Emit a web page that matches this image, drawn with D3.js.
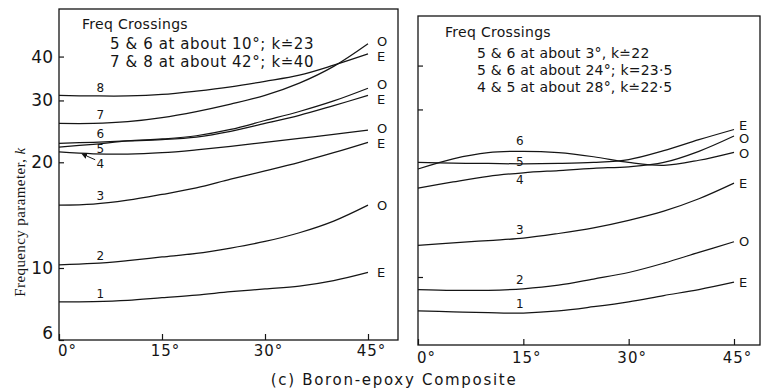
<!DOCTYPE html>
<html>
<head>
<meta charset="utf-8">
<script src="https://cdn.jsdelivr.net/npm/d3@7"></script>
<style>
  body { margin: 0; background: #fff; }
  svg { display: block; }
  text { fill: #151515; }
</style>
</head>
<body>
<div id="chart"></div>
<script>
// fibre angle (degrees) where each curve is read
const angles = [0, 5, 10, 15, 20, 25, 30, 35, 40, 45];

// left panel: frequency parameter k per mode
const leftMode1 = [7.86, 7.88, 7.95, 8.1, 8.25, 8.45, 8.62, 8.8, 9.15, 9.7];
const leftMode2 = [10.2, 10.3, 10.5, 10.75, 11.0, 11.4, 11.9, 12.6, 13.6, 15.1];
const leftMode3 = [15.1, 15.2, 15.6, 16.2, 16.9, 17.9, 18.9, 20.0, 21.3, 22.8];
const leftMode4 = [21.4, 21.15, 21.1, 21.3, 21.7, 22.2, 22.8, 23.4, 24.0, 24.7];
const leftMode5 = [22.1, 22.5, 23.0, 23.3, 23.8, 24.8, 26.3, 27.9, 29.9, 32.5];
const leftMode6 = [22.65, 22.8, 23.0, 23.2, 23.6, 24.5, 25.8, 27.2, 29.0, 31.0];
const leftMode7 = [25.8, 25.8, 26.1, 26.8, 27.9, 29.3, 31.0, 33.6, 37.5, 43.5];
const leftMode8 = [31.0, 30.9, 30.9, 31.2, 31.9, 32.8, 34.0, 35.4, 37.8, 40.7];
const leftEnds = ['E', 'O', 'E', 'O', 'O', 'E', 'O', 'E'];

// right panel
const rightMode1 = [7.75, 7.7, 7.65, 7.63, 7.75, 8.0, 8.3, 8.7, 9.1, 9.62];
const rightMode2 = [9.1, 9.05, 9.05, 9.15, 9.4, 9.85, 10.3, 10.95, 11.75, 12.6];
const rightMode3 = [12.3, 12.5, 12.7, 12.9, 13.3, 13.8, 14.5, 15.4, 16.7, 18.5];
const rightMode4 = [17.9, 18.65, 19.35, 19.8, 20.1, 20.4, 20.6, 21.2, 22.8, 25.2];
const rightMode5 = [21.2, 21.1, 21.05, 21.0, 21.05, 21.2, 21.6, 22.9, 24.6, 26.3];
const rightMode6 = [20.3, 21.7, 22.6, 22.8, 22.6, 22.0, 21.2, 20.8, 21.5, 22.65];
const rightEnds = ['E', 'O', 'E', 'O', 'E', 'O'];

const yTicks = [40, 30, 20, 10, 6];
const yTickLabels = ['40', '30', '20', '10', '6'];
const rightYTicks = [40, 30, 10];
const xTicks = [0, 15, 30, 45];
const xTickLabels = ['0°', '15°', '30°', '45°'];

const leftNotes = ['Freq Crossings', '5 & 6 at about 10°; k≐23', '7 & 8 at about 42°; k≐40'];
const rightNotes = ['Freq Crossings', '5 & 6 at about 3°, k≐22', '5 & 6 at about 24°; k=23·5', '4 & 5 at about 28°, k≐22·5'];
const caption = '(c)  Boron-epoxy Composite';
const yTitle = 'Frequency parameter, ';

const width = 762, height = 392;
const font = '"DejaVu Sans", sans-serif';

const svg = d3.select('#chart').append('svg')
    .attr('width', width)
    .attr('height', height);

svg.append('defs').append('marker')
    .attr('id', 'arrow')
    .attr('viewBox', '0 0 10 10')
    .attr('refX', 1).attr('refY', 5)
    .attr('markerWidth', 6).attr('markerHeight', 6)
    .attr('orient', 'auto-start-reverse')
    .append('path')
    .attr('d', 'M0,0L10,5L0,10z')
    .attr('fill', '#151515');

function toSeries(list, ends) {
    return list.map((vals, i) => ({
        mode: i + 1,
        end: ends[i],
        points: angles.map((a, j) => ({ a, k: vals[j] }))
    }));
}

const leftSeries = toSeries([leftMode1, leftMode2, leftMode3, leftMode4, leftMode5, leftMode6, leftMode7, leftMode8], leftEnds);
const rightSeries = toSeries([rightMode1, rightMode2, rightMode3, rightMode4, rightMode5, rightMode6], rightEnds);

function drawPanel(opt) {
    const { x, y, frame, series, labelAngle, labelDy, showYLabels, yTickVals } = opt;
    const g = svg.append('g');

    // frame
    g.append('rect')
        .attr('x', frame[0]).attr('y', frame[1])
        .attr('width', frame[2] - frame[0]).attr('height', frame[3] - frame[1])
        .attr('fill', 'none')
        .attr('stroke', '#151515')
        .attr('stroke-width', 1.3);

    // x axis
    const xAxis = d3.axisBottom(x)
        .tickValues(xTicks)
        .tickFormat((d, i) => xTickLabels[i])
        .tickSizeInner(-6).tickSizeOuter(0)
        .tickPadding(opt.xPad);
    const gx = g.append('g')
        .attr('transform', `translate(0,${frame[3]})`)
        .call(xAxis);
    gx.select('.domain').remove();
    gx.selectAll('line').attr('stroke', '#151515').attr('stroke-width', 1.2);
    gx.selectAll('text')
        .attr('font-family', font)
        .attr('font-size', 15)
        .attr('letter-spacing', 1)
        .attr('fill', '#151515')
        .attr('dx', d => d === 0 ? 8 : 3);

    // y axis
    const yAxis = d3.axisLeft(y)
        .tickValues(yTickVals)
        .tickFormat((d) => showYLabels ? yTickLabels[yTicks.indexOf(d)] : '')
        .tickSizeInner(-5).tickSizeOuter(0)
        .tickPadding(6);
    const gy = g.append('g')
        .attr('transform', `translate(${frame[0]},0)`)
        .call(yAxis);
    gy.select('.domain').remove();
    gy.selectAll('line').attr('stroke', '#151515').attr('stroke-width', 1.2);
    gy.selectAll('text')
        .attr('font-family', font)
        .attr('font-size', 17)
        .attr('fill', '#151515')
        .attr('dy', d => d === 6 ? '-0.1em' : '0.32em');

    const line = d3.line()
        .x(d => x(d.a))
        .y(d => y(d.k))
        .curve(d3.curveCatmullRom.alpha(0.5));

    g.selectAll('path.curve')
        .data(series)
        .join('path')
        .attr('class', 'curve')
        .attr('d', d => line(d.points))
        .attr('fill', 'none')
        .attr('stroke', '#151515')
        .attr('stroke-width', 1.25);

    // mode numbers near the start of each curve
    const lookup = (s, a) => {
        const i = d3.bisectLeft(angles, a);
        const p0 = s.points[Math.max(i - 1, 0)], p1 = s.points[i];
        const t = (a - p0.a) / ((p1.a - p0.a) || 1);
        return Math.exp(Math.log(p0.k) * (1 - t) + Math.log(p1.k) * t);
    };
    g.selectAll('text.mode')
        .data(series)
        .join('text')
        .attr('class', 'mode')
        .attr('x', x(labelAngle))
        .attr('y', d => y(lookup(d, labelAngle)) + (labelDy[d.mode] ?? -4))
        .attr('text-anchor', 'middle')
        .attr('font-family', font)
        .attr('font-size', 12)
        .text(d => d.mode);

    // O / E tags at the curve ends, nudged apart when crowded
    const ends = series.map(s => ({ s, y: y(s.points[s.points.length - 1].k) }))
        .sort((a, b) => a.y - b.y);
    for (let i = 1; i < ends.length; i++) {
        const gap = ends[i].y - ends[i - 1].y;
        if (gap < 15) {
            const push = (15 - gap) / 2;
            ends[i - 1].y -= push;
            ends[i].y += push;
        }
    }
    g.selectAll('text.end')
        .data(ends)
        .join('text')
        .attr('class', 'end')
        .attr('x', x(45) + opt.endDx)
        .attr('y', d => d.y)
        .attr('dy', '0.36em')
        .attr('font-family', font)
        .attr('font-size', 13)
        .text(d => d.s.end);

    return g;
}

// left panel
const xL = d3.scaleLinear().domain([0, 45]).range([59, 368]);
const yL = d3.scaleLog().domain([6, 10, 55]).range([340, 268, 8]);
const gL = drawPanel({
    x: xL, y: yL,
    frame: [59, 9, 398, 340],
    series: leftSeries,
    labelAngle: 6,
    labelDy: { 4: 14, 5: 9, 6: -4, 3: -3, 2: -3, 1: -3 },
    showYLabels: true,
    yTickVals: yTicks,
    xPad: 5,
    endDx: 9
});

// leader arrow from label 4 to its curve
const arrowX = xL(6) - 5, arrowY = yL(leftMode4[1]) + 6;
gL.append('line')
    .attr('x1', arrowX).attr('y1', arrowY)
    .attr('x2', arrowX - 9).attr('y2', arrowY - 4)
    .attr('stroke', '#151515')
    .attr('stroke-width', 1)
    .attr('marker-end', 'url(#arrow)');

// right panel
const xR = d3.scaleLinear().domain([0, 45]).range([418, 734]);
const yR = d3.scaleLog().domain([6, 10, 55]).range([345, 277, 17]);
drawPanel({
    x: xR, y: yR,
    frame: [418, 16, 760, 345],
    series: rightSeries,
    labelAngle: 14.5,
    labelDy: { 6: -6, 5: 2, 4: 11, 3: -4, 2: -5, 1: -5 },
    showYLabels: false,
    yTickVals: rightYTicks,
    xPad: 7,
    endDx: 5
});

// notes
const noteL = svg.append('g')
    .attr('font-family', font);
noteL.selectAll('text')
    .data(leftNotes)
    .join('text')
    .attr('x', (d, i) => i === 0 ? 82 : 110)
    .attr('y', (d, i) => [29, 49, 67][i])
    .attr('letter-spacing', (d, i) => i === 0 ? 0.3 : 0.6)
    .attr('font-size', (d, i) => i === 0 ? 14 : 15)
    .text(d => d);

const noteR = svg.append('g')
    .attr('font-family', font);
noteR.selectAll('text')
    .data(rightNotes)
    .join('text')
    .attr('x', (d, i) => i === 0 ? 445 : 477)
    .attr('y', (d, i) => [37, 58, 75, 92][i])
    .attr('letter-spacing', (d, i) => i === 0 ? 0.3 : 0.2)
    .attr('font-size', 14)
    .text(d => d);

// y axis title
const yt = svg.append('text')
    .attr('transform', 'translate(25,222) rotate(-90)')
    .attr('text-anchor', 'middle')
    .attr('font-family', '"Liberation Serif", serif')
    .attr('font-size', 15)
    .attr('letter-spacing', 0.4)
    .text(yTitle);
yt.append('tspan').attr('font-style', 'italic').text('k');

// caption
svg.append('text')
    .attr('x', 394)
    .attr('y', 385)
    .attr('text-anchor', 'middle')
    .attr('font-family', font)
    .attr('font-size', 15)
    .attr('letter-spacing', 1.7)
    .text(caption);
</script>
</body>
</html>
